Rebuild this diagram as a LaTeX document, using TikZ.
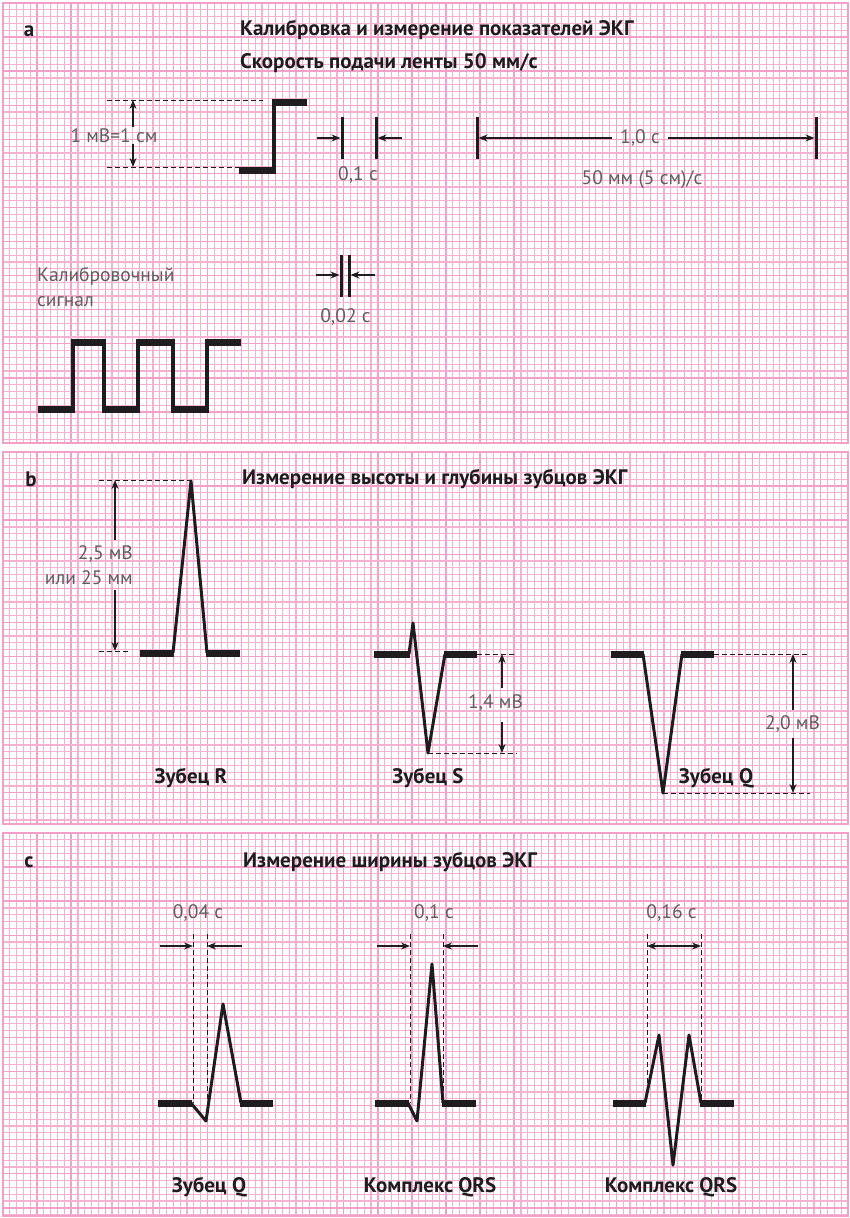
\documentclass[tikz,border=0pt]{standalone}
\usepackage{fontspec}
\setmainfont{PT Sans}
\usetikzlibrary{arrows.meta}
\definecolor{gmin}{RGB}{245,176,210}
\definecolor{gmaj}{RGB}{242,160,201}
\definecolor{lblc}{RGB}{95,95,95}
\definecolor{ink}{RGB}{30,28,30}
\newcommand\ecggrid[2]{%
  \fill[white] (3,#1) rectangle (848,#2);
  \foreach \i in {0,...,124}{%
    \pgfmathsetmacro\xx{3+\i*6.815}%
    \pgfmathtruncatemacro\m{mod(\i,5)}%
    \ifnum\m=0 \draw[gmaj,line width=1.35] (\xx,#1) -- (\xx,#2);%
    \else \draw[gmin,line width=1.15] (\xx,#1) -- (\xx,#2);\fi
  }%
  \pgfmathtruncatemacro\nr{(#2-#1)/6.815}%
  \foreach \j in {0,...,\nr}{%
    \pgfmathsetmacro\yy{#1+\j*6.815}%
    \pgfmathtruncatemacro\m{mod(\j,5)}%
    \ifnum\m=0 \draw[gmaj,line width=1.35] (3,\yy) -- (848,\yy);%
    \else \draw[gmin,line width=1.15] (3,\yy) -- (848,\yy);\fi
  }%
  \draw[gmaj,line width=1.35] (3,#1) rectangle (848,#2);
}
\begin{document}
\begin{tikzpicture}[x=1pt,y=-1pt,
  ttl/.style={font=\fontsize{21}{24}\selectfont\bfseries, text=ink, inner sep=0pt},
  lbl/.style={font=\fontsize{19.5}{25}\selectfont, text=lblc, inner sep=0pt},
  arr/.style={draw=ink, line width=1.1, -{Stealth[length=9pt,width=7pt]}},
  darr/.style={draw=ink, line width=1.1, {Stealth[length=9pt,width=7pt]}-{Stealth[length=9pt,width=7pt]}},
  dsh/.style={draw=ink, line width=0.9, dash pattern=on 4.5pt off 3.5pt},
  heavy/.style={draw=ink, line width=7pt, line cap=butt},
  vline/.style={draw=ink, line width=4pt, line join=miter},
  trace/.style={draw=ink, line width=3pt, line join=round},
  tbar/.style={draw=ink, line width=3pt}]
\useasboundingbox (0,0) rectangle (850,1218);
\fill[white] (0,0) rectangle (850,1218);
\ecggrid{3}{443}
\ecggrid{452}{824}
\ecggrid{833}{1216}

% ---------------- panel a
\node[ttl] (la) at (29,31) {a};
\node[ttl, anchor=west] (ta1) at (240,30) {Калибровка и измерение показателей ЭКГ};
\node[ttl, anchor=west] (ta2) at (240,63) {Скорость подачи ленты 50 мм/с};

% calibration step
\draw[dsh] (107,100) -- (263,100);
\draw[dsh] (107,167) -- (240,167);
\draw[vline] (274,173) -- (274,99);
\draw[heavy] (239,170) -- (276,170);
\draw[heavy] (272,102) -- (307,102);
\coordinate (mvt) at (133,100);
\coordinate (mvb) at (133,167);
\node[lbl] (mv) at (114,136) {1 мВ=1 см};
\draw[arr] (133,127) -- (mvt);
\draw[arr] (133,144) -- (mvb);

% 0,1 s
\coordinate (s1) at (342,138);
\coordinate (s2) at (376,138);
\draw[tbar] (342,117) -- (342,159);
\draw[tbar] (376,117) -- (376,159);
\draw[arr] (317,138) -- ([xshift=-1.5pt]s1);
\draw[arr] (402,138) -- ([xshift=1.5pt]s2);
\node[lbl] (t01) at (358,175) {0,1 с};

% 1,0 s
\coordinate (o1) at (477,138);
\coordinate (o2) at (816,138);
\draw[tbar] (477,117) -- (477,159);
\draw[tbar] (816,117) -- (816,159);
\node[lbl, inner xsep=8pt] (one) at (640,138) {1,0 с};
\draw[arr] (one.west) -- ([xshift=1.5pt]o1);
\draw[arr] (one.east) -- ([xshift=-1.5pt]o2);
\node[lbl] (speed) at (642,180) {50 мм (5 см)/с};

% calibration signal
\node[lbl, anchor=west, align=left] (cal) at (37,287.5) {Калибровочный\\сигнал};
\coordinate (c1) at (341,275);
\coordinate (c2) at (349,275);
\draw[tbar] (341,255) -- (341,297);
\draw[tbar] (349,255) -- (349,297);
\draw[arr] (316,275) -- ([xshift=-1.5pt]c1);
\draw[arr] (375,275) -- ([xshift=1.5pt]c2);
\node[lbl] (t002) at (345.5,317) {0,02 с};

\draw[vline] (73,409) -- (73,342) -- (104,342) -- (104,409) -- (138,409) -- (138,342) -- (173,342) -- (173,409) -- (207,409) -- (207,342);
\draw[heavy] (38,409) -- (75,409);
\draw[heavy] (71,342) -- (106,342);
\draw[heavy] (102,409) -- (140,409);
\draw[heavy] (136,342) -- (175,342);
\draw[heavy] (171,409) -- (209,409);
\draw[heavy] (205,342) -- (241,342);

% ---------------- panel b
\node[ttl] (lb) at (31,479) {b};
\node[ttl, anchor=west] (tb) at (242,479) {Измерение высоты и глубины зубцов ЭКГ};

% R wave
\draw[dsh] (99,480) -- (191,480);
\draw[dsh] (99,651) -- (130,651);
\draw[trace] (173,653) -- (191,481) -- (207,653);
\draw[heavy] (140,653) -- (174,653);
\draw[heavy] (206,653) -- (240,653);
\coordinate (rt) at (115,480);
\coordinate (rb) at (115,651);
\node[lbl, anchor=east, align=right] (rv) at (133,565.5) {2,5 мВ\\или 25 мм};
\draw[arr] (115,540) -- (rt);
\draw[arr] (115,590) -- (rb);
\node[ttl] (zr) at (191,778) {Зубец R};

% S wave
\draw[dsh] (477,654) -- (517,654);
\draw[dsh] (428,753) -- (517,753);
\draw[trace] (409,654) -- (413,623) -- (428,753) -- (445,654);
\draw[heavy] (374,654) -- (410,654);
\draw[heavy] (444,654) -- (477,654);
\coordinate (st) at (502,654);
\coordinate (sb) at (502,753);
\node[lbl] (sv) at (495.5,703) {1,4 мВ};
\draw[arr] (502,688) -- (st);
\draw[arr] (502,722) -- (sb);
\node[ttl] (zs) at (428,778) {Зубец S};

% Q wave
\draw[dsh] (714,654) -- (810,654);
\draw[dsh] (663,793) -- (810,793);
\draw[trace] (643,654) -- (663,793) -- (682,654);
\draw[heavy] (611,654) -- (644,654);
\draw[heavy] (681,654) -- (714,654);
\coordinate (qt) at (793,654);
\coordinate (qb) at (793,793);
\node[lbl] (qv) at (792.5,724) {2,0 мВ};
\draw[arr] (793,710) -- (qt);
\draw[arr] (793,738) -- (qb);
\node[ttl] (zq) at (716,778) {Зубец Q};

% ---------------- panel c
\node[ttl] (lc) at (29,862) {c};
\node[ttl, anchor=west] (tc) at (243,862) {Измерение ширины зубцов ЭКГ};

% Q width
\draw[dsh] (193,934) -- (193,1103);
\draw[dsh] (207,934) -- (207,1100);
\coordinate (qa1) at (193,946);
\coordinate (qa2) at (207,946);
\draw[arr] (160,946) -- (qa1);
\draw[arr] (242,946) -- (qa2);
\node[lbl] (w1) at (198,913) {0,04 с};
\draw[trace] (191,1103) -- (206,1121) -- (223,1004) -- (241,1103);
\draw[heavy] (158,1103) -- (192,1103);
\draw[heavy] (240,1103) -- (273,1103);
\node[ttl] (zq2) at (209,1187) {Зубец Q};

% QRS 0,1
\draw[dsh] (410,934) -- (410,1103);
\draw[dsh] (443,934) -- (443,1103);
\coordinate (ma1) at (410,946);
\coordinate (ma2) at (443,946);
\draw[arr] (377,946) -- (ma1);
\draw[arr] (478,946) -- (ma2);
\node[lbl] (w2) at (434,913) {0,1 с};
\draw[trace] (408,1103) -- (417,1121) -- (432,964) -- (443,1103);
\draw[heavy] (375,1103) -- (409,1103);
\draw[heavy] (442,1103) -- (476,1103);
\node[ttl] (k1) at (430,1187) {Комплекс QRS};

% QRS 0,16
\draw[dsh] (647,934) -- (647,1095);
\draw[dsh] (701,934) -- (701,1103);
\coordinate (ra1) at (647,946);
\coordinate (ra2) at (701,946);
\draw[darr] (ra1) -- (ra2);
\node[lbl] (w3) at (671.5,913) {0,16 с};
\draw[trace] (645,1103) -- (659,1035) -- (673,1165) -- (689,1035) -- (701,1103);
\draw[heavy] (613,1103) -- (646,1103);
\draw[heavy] (700,1103) -- (734,1103);
\node[ttl] (k2) at (671,1187) {Комплекс QRS};
\end{tikzpicture}
\end{document}
